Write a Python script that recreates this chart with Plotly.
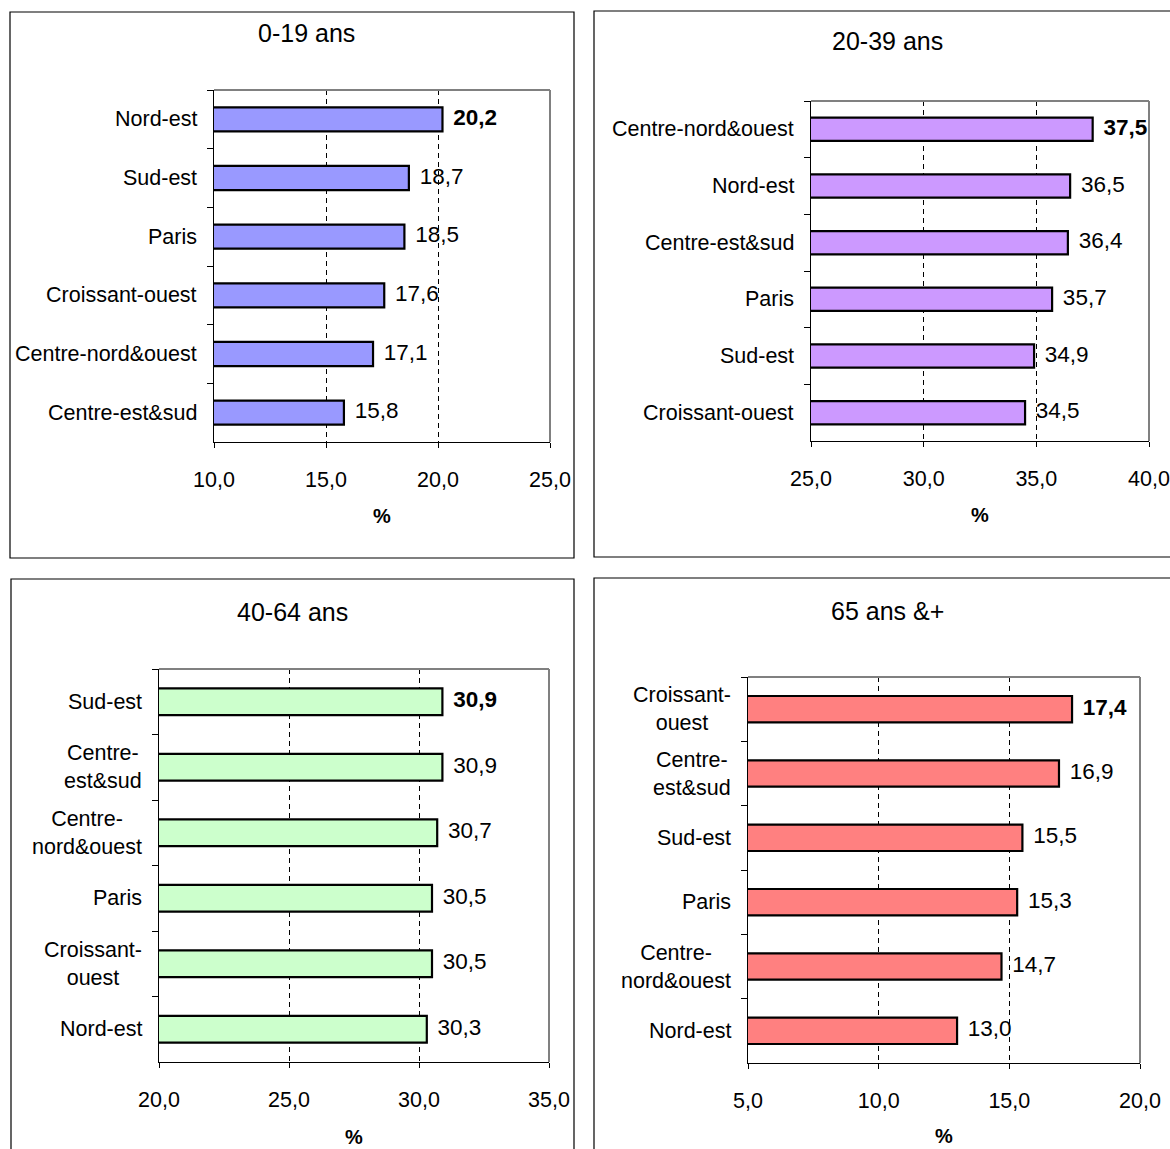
import plotly.graph_objects as go

# ---- data -------------------------------------------------------------
titles = ["0-19 ans", "20-39 ans", "40-64 ans", "65 ans &+"]

regions_0_19 = ["Nord-est", "Sud-est", "Paris", "Croissant-ouest",
                "Centre-nord&ouest", "Centre-est&sud"]
values_0_19 = [20.2, 18.7, 18.5, 17.6, 17.1, 15.8]

regions_20_39 = ["Centre-nord&ouest", "Nord-est", "Centre-est&sud", "Paris",
                 "Sud-est", "Croissant-ouest"]
values_20_39 = [37.5, 36.5, 36.4, 35.7, 34.9, 34.5]

regions_40_64 = ["Sud-est", "Centre-<br>est&sud", "Centre-<br>nord&ouest", "Paris",
                 "Croissant-<br>ouest", "Nord-est"]
values_40_64 = [30.9, 30.9, 30.7, 30.5, 30.5, 30.3]

regions_65 = ["Croissant-<br>ouest", "Centre-<br>est&sud", "Sud-est", "Paris",
              "Centre-<br>nord&ouest", "Nord-est"]
values_65 = [17.4, 16.9, 15.5, 15.3, 14.7, 13.0]

x_ranges = [(10, 25), (25, 40), (20, 35), (5, 20)]
bar_colors = ["#9999FF", "#CC99FF", "#CCFFCC", "#FF8080"]

# ---- layout geometry (pixels on a 1170 x 1149 page) --------------------
W, H = 1170, 1149
FONT = "Arial, Liberation Sans, sans-serif"

panels = [
    # plot area (left, right, top, bottom), frame box, title position, unit label y
    dict(plot=(214, 550, 90, 442), box=(10, 574, 12, 558), title=(306, 33), pct=516),
    dict(plot=(811, 1149, 101, 441), box=(594, 1180, 11, 557), title=(887, 41), pct=515),
    dict(plot=(159, 549, 669, 1062), box=(11, 574, 579, 1160), title=(292, 612), pct=1137),
    dict(plot=(748, 1140, 677, 1063), box=(594, 1180, 578, 1160), title=(887, 611), pct=1136),
]

series = [
    (regions_0_19, values_0_19),
    (regions_20_39, values_20_39),
    (regions_40_64, values_40_64),
    (regions_65, values_65),
]


def px_x(v):
    return v / W


def px_y(v):
    return 1 - v / H


def fmt(v):
    return f"{v:.1f}".replace(".", ",")


fig = go.Figure()
annotations = []
shapes = []

for i, (p, (cats, vals)) in enumerate(zip(panels, series)):
    n = i + 1
    xa = "x" if n == 1 else f"x{n}"
    ya = "y" if n == 1 else f"y{n}"
    xkey = "xaxis" if n == 1 else f"xaxis{n}"
    ykey = "yaxis" if n == 1 else f"yaxis{n}"

    fig.add_trace(go.Bar(
        y=cats, x=vals, orientation="h",
        xaxis=xa, yaxis=ya,
        width=0.41,
        marker=dict(color=bar_colors[i], line=dict(color="black", width=2.2)),
        showlegend=False, hoverinfo="skip",
    ))

    # value labels at the end of each bar, the highest one in bold
    labels = ["\u00a0\u2009" + (f"<b>{fmt(v)}</b>" if k == 0 else fmt(v))
              for k, v in enumerate(vals)]
    fig.add_trace(go.Scatter(
        y=cats, x=vals, mode="text", text=labels, textposition="middle right",
        textfont=dict(family=FONT, size=22.5, color="black"),
        xaxis=xa, yaxis=ya, cliponaxis=False,
        showlegend=False, hoverinfo="skip",
    ))

    left, right, top, bottom = p["plot"]
    lo, hi = x_ranges[i]
    fig.layout[xkey] = dict(
        domain=[px_x(left), px_x(right)], anchor=ya,
        range=[lo, hi], dtick=5, tick0=lo, tickformat=".1f",
        showgrid=True, gridcolor="black", gridwidth=1, griddash="5px,4px",
        showline=True, linecolor="black", linewidth=1,
        ticks="outside", ticklen=5, tickcolor="black",
        ticklabelstandoff=13, automargin=False,
        tickfont=dict(family=FONT, size=21.5, color="black"),
        zeroline=False, fixedrange=True,
    )
    fig.layout[ykey] = dict(
        domain=[px_y(bottom), px_y(top)], anchor=xa,
        type="category", categoryorder="array", categoryarray=cats,
        range=[len(cats) - 0.5, -0.5],
        showline=True, linecolor="black", linewidth=1,
        ticks="outside", ticklen=6, tickcolor="black", tickson="boundaries",
        showticklabels=False, showgrid=False, zeroline=False,
        automargin=False, fixedrange=True,
    )

    # category labels, centred line by line
    for c in cats:
        annotations.append(dict(
            x=0, y=c, xref=f"{xa} domain", yref=ya,
            text=c, showarrow=False, xanchor="right", yanchor="middle",
            align="center", xshift=-15,
            font=dict(family=FONT, size=21.5, color="black"),
        ))

    # grey frame on the top and right of the plot area
    shapes.append(dict(type="line", xref=f"{xa} domain", yref=f"{ya} domain",
                       x0=0, x1=1, y0=1, y1=1, layer="above",
                       line=dict(color="#808080", width=2)))
    shapes.append(dict(type="line", xref=f"{xa} domain", yref=f"{ya} domain",
                       x0=1, x1=1, y0=0, y1=1, layer="above",
                       line=dict(color="#808080", width=2)))

    # outer panel border
    bl, br, bt, bb = p["box"]
    shapes.append(dict(type="rect", xref="paper", yref="paper",
                       x0=px_x(bl), x1=px_x(br), y0=px_y(bb), y1=px_y(bt),
                       line=dict(color="black", width=1.2), layer="below"))

    # panel title
    tx, ty = p["title"]
    annotations.append(dict(
        x=px_x(tx), y=px_y(ty), xref="paper", yref="paper",
        text=titles[i], showarrow=False, xanchor="center", yanchor="middle",
        font=dict(family=FONT, size=25, color="black"),
    ))

    # axis unit
    annotations.append(dict(
        x=0.5, y=px_y(p["pct"]), xref=f"{xa} domain", yref="paper",
        text="<b>%</b>", showarrow=False, xanchor="center", yanchor="middle",
        font=dict(family=FONT, size=20, color="black"),
    ))

fig.update_layout(
    template="none",
    width=W, height=H,
    margin=dict(l=0, r=0, t=0, b=0, autoexpand=False),
    paper_bgcolor="white", plot_bgcolor="white",
    separators=", ",
    annotations=annotations, shapes=shapes,
    font=dict(family=FONT, color="black"),
)

fig.write_html("out.html")
